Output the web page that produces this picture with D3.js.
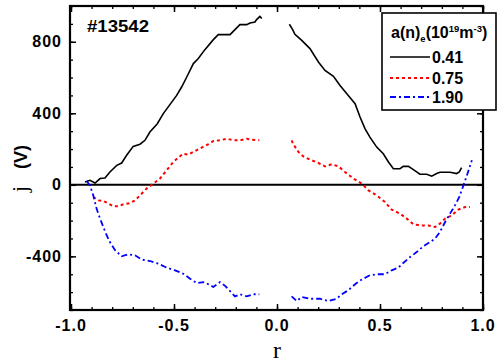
<!DOCTYPE html>
<html><head><meta charset="utf-8">
<script src="https://cdn.jsdelivr.net/npm/d3@7"></script>
<style>body{margin:0;background:#fff}svg{display:block}</style>
</head><body>
<script>
// ---- data ----
const xTicksMajor = [-1.0, -0.5, 0.0, 0.5, 1.0];
const xTickLabels = ["-1.0", "-0.5", "0.0", "0.5", "1.0"];
const yTicksMajor = [-400, 0, 400, 800];
const yTickLabels = ["-400", "0", "400", "800"];
const seriesNames = ["0.41", "0.75", "1.90"];

const r041 = [-0.932,-0.908,-0.883,-0.859,-0.835,-0.811,-0.778,-0.754,-0.730,-0.698,-0.665,-0.641,-0.617,-0.581,-0.552,-0.519,-0.487,-0.463,-0.438,-0.406,-0.382,-0.350,-0.309,-0.285,-0.228,-0.180,-0.147,-0.131,-0.107,-0.099,-0.083,-0.074,
  null,
  0.060,0.076,0.087,0.120,0.160,0.201,0.233,0.274,0.306,0.346,0.379,0.403,0.427,0.451,0.484,0.516,0.541,0.565,0.597,0.613,0.638,0.662,0.694,0.727,0.751,0.775,0.791,0.840,0.872,0.885,0.896];
const j041 = [16,25,10,35,38,72,109,122,165,215,227,249,295,342,398,450,500,547,603,678,706,756,812,840,840,896,896,905,911,924,942,930,
  null,
  898,868,842,808,762,687,640,607,556,500,454,379,314,267,211,174,128,90,90,103,103,85,59,59,48,63,70,70,63,72,96];

const r075 = [-0.892,-0.867,-0.843,-0.818,-0.794,-0.770,-0.746,-0.714,-0.689,-0.665,-0.633,-0.600,-0.568,-0.536,-0.503,-0.479,-0.455,-0.430,-0.398,-0.366,-0.333,-0.309,-0.277,-0.244,-0.212,-0.180,-0.147,-0.123,-0.086,
  null,
  0.071,0.079,0.104,0.128,0.160,0.201,0.233,0.266,0.298,0.330,0.371,0.411,0.444,0.484,0.524,0.557,0.597,0.630,0.662,0.702,0.735,0.767,0.791,0.816,0.848,0.880,0.913,0.937];
const j075 = [-68,-87,-90,-105,-120,-120,-109,-102,-87,-59,-21,7,35,81,128,152,174,169,189,208,227,245,249,258,249,249,258,253,249,
  null,
  249,227,184,159,141,122,103,115,103,72,35,7,-31,-59,-96,-139,-161,-189,-221,-227,-227,-236,-217,-189,-171,-139,-124,-124];

const r190 = [-0.924,-0.908,-0.892,-0.876,-0.859,-0.843,-0.827,-0.811,-0.786,-0.754,-0.722,-0.689,-0.657,-0.617,-0.576,-0.536,-0.495,-0.455,-0.422,-0.390,-0.358,-0.333,-0.309,-0.277,-0.252,-0.228,-0.204,-0.180,-0.147,-0.115,-0.086,
  null,
  0.071,0.096,0.120,0.160,0.209,0.249,0.290,0.314,0.346,0.379,0.411,0.451,0.484,0.524,0.557,0.589,0.613,0.646,0.678,0.710,0.743,0.767,0.791,0.816,0.840,0.864,0.885,0.905,0.925,0.946];
const j190 = [21,-3,-59,-133,-189,-236,-282,-320,-366,-400,-389,-394,-418,-426,-441,-463,-478,-497,-525,-549,-544,-556,-571,-544,-565,-594,-624,-612,-624,-612,-612,
  null,
  -624,-650,-627,-637,-637,-650,-637,-612,-590,-556,-530,-506,-500,-500,-478,-463,-437,-404,-376,-344,-320,-301,-264,-208,-161,-115,-68,-3,63,137];

// ---- chart ----
const W = 497, H = 363;
const svg = d3.select("body").append("svg").attr("width", W).attr("height", H);
const L = 70, R = 483, T = 6, B = 310;
const x = d3.scaleLinear().domain([-1, 1]).range([L + 1, R]);
const y = d3.scaleLinear().domain([-700, 1000]).range([B, T]);

const sans = "'Liberation Sans', Arial, sans-serif";
const serif = "'Liberation Serif', 'Times New Roman', serif";

const xMinor = d3.range(-10, 11).map(i => i / 10);
const yMinor = d3.range(-7, 11).map(i => i * 100);

function ticksAxis(axisGen, transform, major, minorVals) {
  const g = svg.append("g").attr("transform", transform);
  g.call(axisGen.tickValues(minorVals).tickSize(3).tickFormat(""));
  g.select(".domain").remove();
  g.selectAll("line").attr("stroke", "#000").attr("stroke-width", 1.3);
  const g2 = svg.append("g").attr("transform", transform);
  g2.call(axisGen.tickValues(major).tickSize(6).tickFormat(""));
  g2.select(".domain").remove();
  g2.selectAll("line").attr("stroke", "#000").attr("stroke-width", 1.5);
  return g2;
}

// inward ticks on all four sides
ticksAxis(d3.axisTop(x), `translate(0,${B})`, xTicksMajor, xMinor);
ticksAxis(d3.axisBottom(x), `translate(0,${T})`, xTicksMajor, xMinor);
ticksAxis(d3.axisRight(y), `translate(${L},0)`, yTicksMajor, yMinor);
ticksAxis(d3.axisLeft(y), `translate(${R},0)`, yTicksMajor, yMinor);

// tick labels
svg.append("g").selectAll("text").data(xTicksMajor).join("text")
  .attr("x", d => x(d)).attr("y", 331)
  .attr("text-anchor", "middle")
  .attr("font-family", sans).attr("font-weight", "bold").attr("font-size", 16)
  .attr("letter-spacing", 1)
  .text((d, i) => xTickLabels[i]);
svg.append("g").selectAll("text").data(yTicksMajor).join("text")
  .attr("x", 62).attr("y", d => y(d) + 5.5)
  .attr("text-anchor", "end")
  .attr("font-family", sans).attr("font-weight", "bold").attr("font-size", 16)
  .attr("letter-spacing", 1)
  .text((d, i) => yTickLabels[i]);

// zero line
svg.append("line").attr("x1", L).attr("x2", R).attr("y1", y(0)).attr("y2", y(0))
  .attr("stroke", "#000").attr("stroke-width", 2);

// series
const line = d3.line().defined(d => d[0] !== null).x(d => x(d[0])).y(d => y(d[1]));
const series = [
  {r: r041, j: j041, color: "#000", dash: null, w: 1.6},
  {r: r075, j: j075, color: "#ff0000", dash: "3,3", w: 2},
  {r: r190, j: j190, color: "#0000ff", dash: "6,3,2,3", w: 1.8}
];
series.forEach(s => {
  const pts = s.r.map((v, i) => [v, s.j[i]]);
  svg.append("path").datum(pts).attr("d", line)
    .attr("fill", "none").attr("stroke", s.color).attr("stroke-width", s.w)
    .attr("stroke-dasharray", s.dash);
});

// frame
svg.append("rect").attr("x", L).attr("y", T).attr("width", R - L).attr("height", B - T)
  .attr("fill", "none").attr("stroke", "#000").attr("stroke-width", 2.2);

// annotation
svg.append("text").attr("x", 87).attr("y", 32)
  .attr("font-family", sans).attr("font-weight", "bold").attr("font-size", 17)
  .attr("textLength", 62).attr("lengthAdjust", "spacingAndGlyphs")
  .text("#13542");

// legend
const lg = svg.append("g");
lg.append("rect").attr("x", 382).attr("y", 13).attr("width", 114).attr("height", 97)
  .attr("fill", "#fff").attr("stroke", "#000").attr("stroke-width", 1.6);
const title = lg.append("text").attr("x", 391).attr("y", 38)
  .attr("font-family", sans).attr("font-weight", "bold").attr("font-size", 16);
title.append("tspan").text("a(n)");
title.append("tspan").attr("font-size", 9.5).attr("dy", 4).text("e");
title.append("tspan").attr("dy", -4).text("(10");
title.append("tspan").attr("font-size", 9.5).attr("dy", -6).text("19");
title.append("tspan").attr("dy", 6).text("m");
title.append("tspan").attr("font-size", 9.5).attr("dy", -6).text("-3");
title.append("tspan").attr("dy", 6).text(")");
const rowsY = [57, 78, 97];
series.forEach((s, i) => {
  lg.append("line").attr("x1", 390).attr("x2", 430).attr("y1", rowsY[i]).attr("y2", rowsY[i])
    .attr("stroke", s.color).attr("stroke-width", s.w).attr("stroke-dasharray", s.dash);
  lg.append("text").attr("x", 432).attr("y", rowsY[i] + 6)
    .attr("font-family", sans).attr("font-weight", "bold").attr("font-size", 16)
    .text(seriesNames[i]);
});

// axis titles
svg.append("text").attr("transform", "translate(27,192) rotate(-90)")
  .attr("font-family", serif).attr("font-size", 22).text("j");
svg.append("text").attr("transform", "translate(27,169) rotate(-90)")
  .attr("font-family", sans).attr("font-weight", "bold").attr("font-size", 18).text("(V)");
svg.append("text").attr("x", 277).attr("y", 358).attr("text-anchor", "middle")
  .attr("font-family", serif).attr("font-size", 24).text("r");
</script>
</body></html>
